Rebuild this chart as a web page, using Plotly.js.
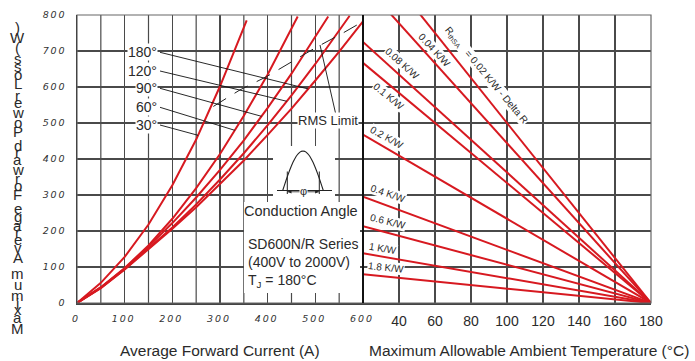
<!DOCTYPE html>
<html><head><meta charset="utf-8">
<script src="https://cdn.plot.ly/plotly-3.0.1.min.js"></script>
<style>html,body{margin:0;padding:0;background:#fff}</style>
</head><body><div id="chart" style="width:695px;height:361px"></div>
<script>
// ---- Left panel: average forward current (A) vs max average power loss (W)
const angleLabels = ['30°','60°','90°','120°','180°'];
const cur30  = [0,50,100,150,200,250,300,356];
const pow30  = [0,56,128,218,327,454,602,785];
const cur60  = [0,50,100,150,200,250,300,350,400,463];
const pow60  = [0,44,97,160,234,319,414,520,635,796];
const cur90  = [0,50,100,150,200,250,300,350,400,450,527];
const pow90  = [0,43,95,157,222,293,370,452,542,637,796];
const cur120 = [0,50,100,150,200,250,300,350,400,450,500,572];
const pow120 = [0,42,94,151,210,274,343,416,494,577,664,798];
const cur180 = [0,50,100,150,200,250,300,350,400,450,500,550,600];
const pow180 = [0,41,93,149,206,266,330,396,467,540,618,698,782];
const rmsCur = [286,342,398,440,499,558,600];
const rmsPow = [546,592,629,662,708,750,782];
const leftTicks = [0,100,200,300,400,500,600];
const leftMinorTicks = [50,150,250,350,450,550];
const powerTicks = [0,100,200,300,400,500,600,700,800];

// ---- Right panel: ambient temperature (°C) vs power loss (W), thermal resistance lines
const rthLabels = ['R<sub>thSA</sub>\u00a0\u00a0\u00a0= 0.02 K/W - Delta R','0.04 K/W','0.08 K/W','0.1 K/W','0.2 K/W','0.4 K/W','0.6 K/W','1 K/W','1.8 K/W'];
const ambientTemps = [20, 180];
const powerAt20  = [1000,888,725,667,468,295,213,138,80];
const powerAt180 = [0,0,0,0,0,0,0,0,0];
const rightTicks = [40,60,80,100,120,140,160,180];

const RED = '#d71920';
const GRID = '#4a4a4a';
const TXT = '#2a2a2a';
const FONT = 'Liberation Sans, Arial, sans-serif';

// pixel -> paper helpers (plot area: x 77..651, y 15..303)
const PX = x => (x - 77) / 574;
const PY = y => (303 - y) / 288;

const traces = [];
// minor vertical gridlines of the left panel (every 50 A), drawn first so curves sit above
const gx = [], gy = [];
leftMinorTicks.forEach(v => { gx.push(v, v, null); gy.push(0, 800, null); });
traces.push({x:gx, y:gy, xaxis:'x', yaxis:'y', mode:'lines', line:{color:GRID, width:1.2}, hoverinfo:'skip', connectgaps:false});

const curves = [[cur30,pow30],[cur60,pow60],[cur90,pow90],[cur120,pow120],[cur180,pow180]];
curves.forEach((c,i) => traces.push({x:c[0], y:c[1], xaxis:'x', yaxis:'y', mode:'lines',
  line:{color:RED, width:2}, name:angleLabels[i], hoverinfo:'skip'}));
traces.push({x:rmsCur, y:rmsPow, xaxis:'x', yaxis:'y', mode:'lines',
  line:{color:'#222', width:1, dash:'15px,10px'}, hoverinfo:'skip'});
powerAt20.forEach((p,i) => traces.push({x:ambientTemps, y:[p, powerAt180[i]], xaxis:'x2', yaxis:'y',
  mode:'lines', line:{color:RED, width:2}, name:rthLabels[i], hoverinfo:'skip'}));

function interp(xs, ys, x){
  for (let i=1;i<xs.length;i++){ if (x<=xs[i]){ const t=(x-xs[i-1])/(xs[i]-xs[i-1]); return ys[i-1]+t*(ys[i]-ys[i-1]); } }
  return ys[ys.length-1];
}
const spaced = s => String(s).split('').join('\u2009');

const annotations = [];
const shapes = [];
function ann(o){ annotations.push(Object.assign({xref:'paper', yref:'paper', xanchor:'center', yanchor:'middle', showarrow:false}, o)); }

// frame + divider
shapes.push({type:'rect', xref:'paper', yref:'paper', x0:0, x1:1, y0:0, y1:1, line:{color:'#666', width:1.2}});
shapes.push({type:'line', xref:'paper', yref:'paper', x0:PX(363), x1:PX(363), y0:0, y1:1, line:{color:'#111', width:2}});

// angle labels with pointer lines
const angleLabelY = [125,107.3,88.3,71,52.3];
const angleTargets = [254,331,387,440,485];
curves.forEach((c,i) => {
  ann({x:PX(158), y:PY(angleLabelY[i]), xanchor:'right', text:angleLabels[i],
    font:{family:FONT, size:14, color:TXT}, bgcolor:'#fff', borderpad:0});
  const tx = angleTargets[i], ty = interp(c[0], c[1], tx);
  shapes.push({type:'line', xref:'paper', yref:'paper', x0:PX(160), y0:PY(angleLabelY[i]), x1:PX(77+tx*286/600), y1:PY(303-ty*288/800),
    line:{color:'#111', width:0.9}});
});

// RMS limit label and pointer
shapes.push({type:'line', xref:'paper', yref:'paper', x0:PX(320), y0:PY(45), x1:PX(335.5), y1:PY(113), line:{color:'#111', width:0.9}});
ann({x:PX(328), y:PY(120), text:'RMS Limit', font:{family:FONT, size:13, color:TXT}, bgcolor:'#fff', borderpad:0});

// white boxes behind conduction diagram and notes
shapes.push({type:'rect', xref:'paper', yref:'paper', x0:PX(273), x1:PX(335), y0:PY(146), y1:PY(202), fillcolor:'#fff', line:{width:0}});
shapes.push({type:'rect', xref:'paper', yref:'paper', x0:PX(244), x1:PX(360), y0:PY(202), y1:PY(293), fillcolor:'#fff', line:{width:0}});
// half-sine waveform
let path = '';
for (let k=0;k<=24;k++){
  const x = 282.7 + 40.6*k/24, y = 190.5 - 39.5*Math.sin(Math.PI*k/24);
  path += (k===0?'M ':' L ') + PX(x) + ',' + PY(y);
}
shapes.push({type:'path', xref:'paper', yref:'paper', path:path, line:{color:'#222', width:1.1}});
shapes.push({type:'line', xref:'paper', yref:'paper', x0:PX(277), x1:PX(332), y0:PY(190.5), y1:PY(190.5), line:{color:'#222', width:1}});
[287.3,319.3].forEach(x => shapes.push({type:'line', xref:'paper', yref:'paper', x0:PX(x), x1:PX(x), y0:PY(171.5), y1:PY(194), line:{color:'#222', width:1}}));
shapes.push({type:'line', xref:'paper', yref:'paper', x0:PX(287.3), x1:PX(319.3), y0:PY(191.8), y1:PY(191.8), line:{color:'#222', width:0.8}});
shapes.push({type:'path', xref:'paper', yref:'paper', path:`M ${PX(287.5)},${PY(191.8)} L ${PX(291.5)},${PY(190)} L ${PX(291.5)},${PY(193.6)} Z`, fillcolor:'#222', line:{width:0}});
shapes.push({type:'path', xref:'paper', yref:'paper', path:`M ${PX(319.1)},${PY(191.8)} L ${PX(315.1)},${PY(190)} L ${PX(315.1)},${PY(193.6)} Z`, fillcolor:'#222', line:{width:0}});
ann({x:PX(303.3), y:PY(191), text:'φ', font:{family:FONT, size:11, color:TXT}, bgcolor:'#fff', borderpad:0});
ann({x:PX(301), y:PY(211), text:'Conduction Angle', font:{family:FONT, size:14.5, color:TXT}});
ann({x:PX(246), y:PY(263), xanchor:'left', align:'left',
  text:'SD600N/R Series<br>(400V to 2000V)<br>T<sub>J</sub> = 180°C', font:{family:FONT, size:14, color:TXT}});

// right-panel rotated labels
const rthPos = [[486,75,50],[435,50,47],[402,64,42],[389,96,39],[387,137,29],[388,193,19],[388,221,14],[383,248,10],[386,267,6]];
rthLabels.forEach((t,i) => ann({x:PX(rthPos[i][0]), y:PY(rthPos[i][1]),
  text:t, textangle:rthPos[i][2], font:{family:FONT, size:10, color:TXT}, bgcolor:'#fff', borderpad:0}));

// axis titles
ann({x:PX(220), y:PY(350), text:'Average Forward Current (A)', font:{family:FONT, size:15.5, color:TXT}});
ann({x:PX(529), y:PY(350), text:'Maximum Allowable Ambient Temperature (°C)', font:{family:FONT, size:15.5, color:TXT}});

// stacked upright y-axis title
const yTitle = 'Maximum Average Forward Power Loss (W)';
const arialW = {M:833,a:556,x:500,i:222,m:833,u:556,' ':278,A:667,v:500,e:556,r:333,g:556,F:611,o:556,w:722,d:556,P:667,L:556,s:500,'(':333,W:944,')':333};
let totalW = 0; for (const ch of yTitle) totalW += arialW[ch] || 556;
const scale = 310 / totalW;
let cum = 0;
for (const ch of yTitle){
  const w = arialW[ch] || 556;
  if (ch !== ' '){
    const cy = 335 - (cum + w/2) * scale;
    ann({x:PX(17.5), y:PY(cy), text:ch, font:{family:FONT, size:15, color:TXT}});
  }
  cum += w;
}

const tickFont = {family:'DejaVu Sans, sans-serif', size:9.5, color:'#333', style:'italic'};
const layout = {
  width:695, height:361, margin:{l:77, r:44, t:15, b:58},
  paper_bgcolor:'#fff', plot_bgcolor:'#fff', showlegend:false,
  xaxis:{domain:[0, 286/574], range:[0,600], tickvals:leftTicks, ticktext:leftTicks.map(spaced),
    showgrid:true, gridcolor:GRID, gridwidth:1.2, zeroline:false, showline:true, linecolor:'#444', linewidth:2,
    ticks:'', tickfont:tickFont, ticklabelstandoff:6, ticklabelshift:-2, fixedrange:true},
  xaxis2:{domain:[286/574, 1], range:[20,180], anchor:'y', tickvals:rightTicks, ticktext:rightTicks.map(String),
    showgrid:true, gridcolor:GRID, gridwidth:1.2, zeroline:false, showline:true, linecolor:'#444', linewidth:2,
    ticks:'', tickfont:{family:FONT, size:14, color:TXT}, ticklabelstandoff:4, fixedrange:true},
  yaxis:{range:[0,800], tickvals:powerTicks, ticktext:powerTicks.map(spaced), showgrid:true, gridcolor:GRID, gridwidth:1.2,
    zeroline:false, showline:true, linecolor:'#111', linewidth:1.5, ticks:'', tickfont:tickFont, ticklabelstandoff:9, fixedrange:true},
  shapes:shapes, annotations:annotations
};
Plotly.newPlot('chart', traces, layout, {displayModeBar:false, staticPlot:true});
</script></body></html>
